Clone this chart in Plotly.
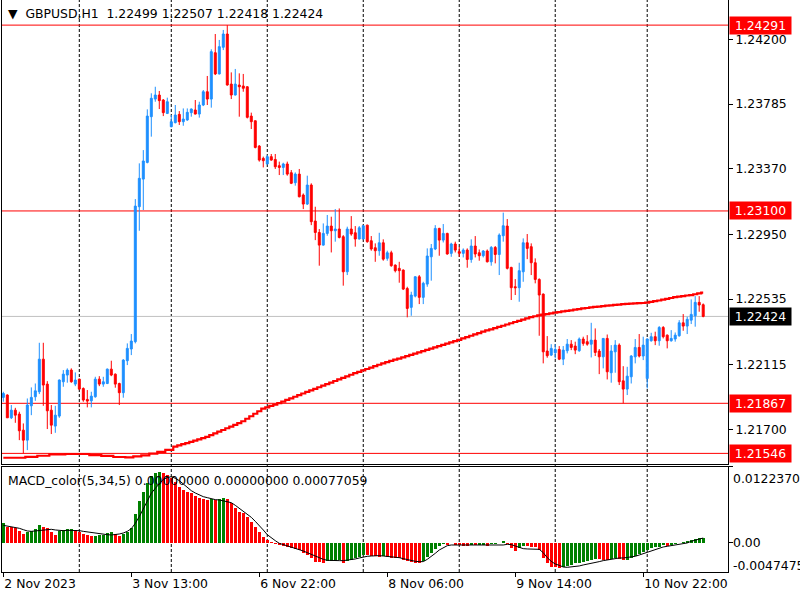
import plotly.graph_objects as go

BARS = list(range(176))

OPEN = [
    1.21905, 1.21920, 1.21774, 1.21823, 1.21798, 1.21695, 1.21631, 1.21851, 1.21909, 1.21941,
    1.22150, 1.21990, 1.21823, 1.21721, 1.21785, 1.22005, 1.22048, 1.22080, 1.21990, 1.22022,
    1.21962, 1.21892, 1.21883, 1.21909, 1.22022, 1.21990, 1.21994, 1.22086, 1.22054, 1.21994,
    1.21935, 1.22140, 1.22215, 1.22262, 1.23127, 1.23304, 1.23411, 1.23704, 1.23817, 1.23843,
    1.23811, 1.23725, 1.23640, 1.23666, 1.23719, 1.23672, 1.23683, 1.23730, 1.23747, 1.23721,
    1.23779, 1.23864, 1.23817, 1.24114, 1.23978, 1.24149, 1.24234, 1.23913, 1.23843, 1.23907,
    1.23901, 1.23896, 1.23708, 1.23678, 1.23516, 1.23437, 1.23401, 1.23448, 1.23430, 1.23390,
    1.23379, 1.23401, 1.23345, 1.23281, 1.23336, 1.23202, 1.23144, 1.23266, 1.23035, 1.22962,
    1.22881, 1.22956, 1.23003, 1.22973, 1.22984, 1.22935, 1.22710, 1.22984, 1.22960, 1.22920,
    1.22920, 1.23009, 1.22909, 1.22864, 1.22845, 1.22896, 1.22796, 1.22832, 1.22753, 1.22732,
    1.22721, 1.22603, 1.22482, 1.22554, 1.22678, 1.22546, 1.22631, 1.22806, 1.22856, 1.22988,
    1.22913, 1.22956, 1.22828, 1.22888, 1.22839, 1.22828, 1.22849, 1.22789, 1.22875, 1.22832,
    1.22813, 1.22843, 1.22774, 1.22866, 1.22821, 1.22941, 1.23003, 1.22738, 1.22614, 1.22608,
    1.22710, 1.22896, 1.22871, 1.22768, 1.22661, 1.22567, 1.22202, 1.22176, 1.22191, 1.22212,
    1.22150, 1.22204, 1.22246, 1.22234, 1.22204, 1.22279, 1.22262, 1.22246, 1.22272, 1.22202,
    1.22165, 1.22283, 1.22063, 1.22197, 1.22240, 1.22011, 1.21958, 1.22037, 1.22165, 1.22225,
    1.22170, 1.22026, 1.22268, 1.22294, 1.22268, 1.22353, 1.22304, 1.22268, 1.22279, 1.22300,
    1.22383, 1.22362, 1.22400, 1.22428, 1.22514, 1.22499,
]

HIGH = [
    1.21941, 1.21925, 1.21856, 1.21838, 1.21813, 1.21738, 1.21898, 1.21969, 1.21994, 1.22255,
    1.22255, 1.22009, 1.21856, 1.21851, 1.22020, 1.22080, 1.22091, 1.22091, 1.22065, 1.22025,
    1.21969, 1.21952, 1.21941, 1.22037, 1.22041, 1.22037, 1.22090, 1.22140, 1.22058, 1.21999,
    1.22150, 1.22251, 1.22311, 1.23176, 1.23405, 1.23490, 1.23751, 1.23854, 1.23896, 1.23869,
    1.23817, 1.23826, 1.23715, 1.23779, 1.23740, 1.23757, 1.23757, 1.23757, 1.23811, 1.23800,
    1.23875, 1.23965, 1.24136, 1.24234, 1.24196, 1.24260, 1.24291, 1.23988, 1.24010, 1.23982,
    1.23978, 1.23900, 1.23730, 1.23680, 1.23522, 1.23448, 1.23458, 1.23465, 1.23465, 1.23416,
    1.23409, 1.23416, 1.23362, 1.23347, 1.23369, 1.23212, 1.23326, 1.23277, 1.23127, 1.22984,
    1.23020, 1.23074, 1.23063, 1.23112, 1.23116, 1.22945, 1.22999, 1.23067, 1.23003, 1.23003,
    1.23010, 1.23012, 1.22939, 1.22892, 1.22960, 1.22918, 1.22845, 1.22845, 1.22757, 1.22774,
    1.22725, 1.22614, 1.22582, 1.22682, 1.22689, 1.22646, 1.22860, 1.22888, 1.23009, 1.22992,
    1.23016, 1.22960, 1.22896, 1.22903, 1.22871, 1.22860, 1.22860, 1.22918, 1.22939, 1.22853,
    1.22849, 1.22853, 1.22875, 1.22875, 1.22956, 1.23089, 1.23048, 1.22742, 1.22663, 1.22768,
    1.22924, 1.22952, 1.22892, 1.22796, 1.22668, 1.22571, 1.22298, 1.22246, 1.22246, 1.22234,
    1.22234, 1.22279, 1.22272, 1.22262, 1.22289, 1.22294, 1.22304, 1.22383, 1.22347, 1.22215,
    1.22285, 1.22308, 1.22240, 1.22272, 1.22251, 1.22105, 1.22101, 1.22176, 1.22279, 1.22311,
    1.22294, 1.22283, 1.22319, 1.22326, 1.22362, 1.22362, 1.22308, 1.22336, 1.22321, 1.22400,
    1.22439, 1.22422, 1.22533, 1.22554, 1.22554, 1.22507,
]

LOW = [
    1.21877, 1.21774, 1.21766, 1.21742, 1.21631, 1.21546, 1.21567, 1.21791, 1.21883, 1.21926,
    1.21851, 1.21702, 1.21670, 1.21678, 1.21774, 1.21973, 1.21999, 1.21999, 1.21977, 1.21952,
    1.21877, 1.21841, 1.21841, 1.21903, 1.21977, 1.21973, 1.21990, 1.22041, 1.21967, 1.21856,
    1.21903, 1.22112, 1.22176, 1.22251, 1.22973, 1.23106, 1.23405, 1.23576, 1.23800, 1.23753,
    1.23708, 1.23721, 1.23636, 1.23661, 1.23651, 1.23646, 1.23678, 1.23704, 1.23719, 1.23698,
    1.23772, 1.23779, 1.23762, 1.23971, 1.23975, 1.24131, 1.23903, 1.23817, 1.23840, 1.23704,
    1.23864, 1.23693, 1.23625, 1.23501, 1.23416, 1.23379, 1.23400, 1.23422, 1.23369, 1.23330,
    1.23330, 1.23326, 1.23272, 1.23262, 1.23187, 1.23112, 1.23138, 1.23009, 1.22913, 1.22749,
    1.22877, 1.22941, 1.22834, 1.22903, 1.22924, 1.22621, 1.22689, 1.22941, 1.22871, 1.22918,
    1.22918, 1.22896, 1.22845, 1.22774, 1.22813, 1.22781, 1.22781, 1.22742, 1.22706, 1.22640,
    1.22593, 1.22418, 1.22428, 1.22546, 1.22503, 1.22503, 1.22614, 1.22653, 1.22849, 1.22813,
    1.22898, 1.22820, 1.22806, 1.22834, 1.22806, 1.22802, 1.22736, 1.22768, 1.22802, 1.22781,
    1.22802, 1.22770, 1.22749, 1.22764, 1.22689, 1.22903, 1.22725, 1.22529, 1.22561, 1.22518,
    1.22646, 1.22791, 1.22689, 1.22636, 1.22300, 1.22123, 1.22159, 1.22170, 1.22155, 1.22144,
    1.22112, 1.22187, 1.22208, 1.22182, 1.22197, 1.22236, 1.22236, 1.22161, 1.22170, 1.22054,
    1.22091, 1.22020, 1.21999, 1.22063, 1.21984, 1.21867, 1.21920, 1.21994, 1.22123, 1.22161,
    1.22144, 1.21962, 1.22262, 1.22240, 1.22236, 1.22283, 1.22219, 1.22262, 1.22262, 1.22294,
    1.22332, 1.22311, 1.22375, 1.22358, 1.22454, 1.22418,
]

CLOSE = [
    1.21930, 1.21774, 1.21823, 1.21791, 1.21691, 1.21631, 1.21856, 1.21905, 1.21947, 1.22150,
    1.21984, 1.21819, 1.21727, 1.21791, 1.22016, 1.22054, 1.22080, 1.22005, 1.22016, 1.21958,
    1.21888, 1.21881, 1.21913, 1.22022, 1.21990, 1.22005, 1.22086, 1.22048, 1.21990, 1.21935,
    1.22144, 1.22219, 1.22266, 1.23131, 1.23309, 1.23420, 1.23708, 1.23822, 1.23843, 1.23807,
    1.23730, 1.23800, 1.23672, 1.23715, 1.23672, 1.23689, 1.23732, 1.23753, 1.23721, 1.23779,
    1.23864, 1.23817, 1.24121, 1.23978, 1.24153, 1.24234, 1.23907, 1.23843, 1.23913, 1.23896,
    1.23886, 1.23700, 1.23672, 1.23507, 1.23426, 1.23422, 1.23448, 1.23426, 1.23383, 1.23379,
    1.23401, 1.23336, 1.23277, 1.23336, 1.23191, 1.23144, 1.23266, 1.23031, 1.22962, 1.22881,
    1.22956, 1.23003, 1.22973, 1.22984, 1.22930, 1.22710, 1.22984, 1.22952, 1.22920, 1.22992,
    1.23005, 1.22903, 1.22856, 1.22845, 1.22896, 1.22791, 1.22832, 1.22749, 1.22717, 1.22717,
    1.22599, 1.22475, 1.22561, 1.22678, 1.22546, 1.22636, 1.22811, 1.22860, 1.22988, 1.22913,
    1.22956, 1.22824, 1.22888, 1.22849, 1.22828, 1.22849, 1.22789, 1.22875, 1.22824, 1.22813,
    1.22843, 1.22774, 1.22866, 1.22821, 1.22945, 1.23005, 1.22732, 1.22608, 1.22608, 1.22717,
    1.22896, 1.22860, 1.22768, 1.22661, 1.22561, 1.22197, 1.22172, 1.22219, 1.22212, 1.22150,
    1.22208, 1.22246, 1.22225, 1.22208, 1.22279, 1.22251, 1.22246, 1.22272, 1.22193, 1.22165,
    1.22283, 1.22069, 1.22202, 1.22240, 1.22005, 1.21958, 1.22041, 1.22170, 1.22225, 1.22170,
    1.22240, 1.22279, 1.22294, 1.22268, 1.22353, 1.22294, 1.22268, 1.22283, 1.22304, 1.22383,
    1.22362, 1.22405, 1.22437, 1.22514, 1.22497, 1.22424,
]

MA = [
    1.21518, 1.21518, 1.21518, 1.21518, 1.21518, 1.21518, 1.21524, 1.21524, 1.21524, 1.21531,
    1.21531, 1.21531, 1.21540, 1.21540, 1.21540, 1.21540, 1.21542, 1.21542, 1.21542, 1.21542,
    1.21542, 1.21542, 1.21535, 1.21535, 1.21535, 1.21530, 1.21530, 1.21530, 1.21523, 1.21523,
    1.21523, 1.21521, 1.21521, 1.21527, 1.21527, 1.21533, 1.21533, 1.21544, 1.21544, 1.21556,
    1.21556, 1.21569, 1.21569, 1.21589, 1.21597, 1.21605, 1.21612, 1.21620, 1.21628, 1.21636,
    1.21644, 1.21652, 1.21663, 1.21674, 1.21685, 1.21696, 1.21707, 1.21718, 1.21729, 1.21740,
    1.21752, 1.21768, 1.21784, 1.21800, 1.21816, 1.21833, 1.21841, 1.21850, 1.21858, 1.21868,
    1.21878, 1.21889, 1.21899, 1.21909, 1.21919, 1.21930, 1.21940, 1.21950, 1.21960, 1.21970,
    1.21980, 1.21990, 1.22000, 1.22010, 1.22020, 1.22030, 1.22040, 1.22050, 1.22060, 1.22069,
    1.22078, 1.22087, 1.22096, 1.22105, 1.22114, 1.22123, 1.22131, 1.22139, 1.22147, 1.22154,
    1.22162, 1.22170, 1.22178, 1.22185, 1.22193, 1.22201, 1.22209, 1.22217, 1.22225, 1.22233,
    1.22241, 1.22249, 1.22257, 1.22266, 1.22274, 1.22283, 1.22291, 1.22300, 1.22309, 1.22317,
    1.22326, 1.22334, 1.22341, 1.22349, 1.22357, 1.22364, 1.22372, 1.22380, 1.22388, 1.22396,
    1.22404, 1.22412, 1.22420, 1.22425, 1.22430, 1.22435, 1.22439, 1.22444, 1.22448, 1.22452,
    1.22456, 1.22460, 1.22463, 1.22467, 1.22471, 1.22475, 1.22478, 1.22482, 1.22485, 1.22487,
    1.22490, 1.22493, 1.22495, 1.22498, 1.22500, 1.22503, 1.22504, 1.22506, 1.22507, 1.22509,
    1.22510, 1.22512, 1.22517, 1.22522, 1.22526, 1.22531, 1.22537, 1.22542, 1.22547, 1.22551,
    1.22554, 1.22558, 1.22561, 1.22566, 1.22571, 1.22577,
]

MACD_HIST = [
    0.00324, 0.00259, 0.00248, 0.00232, 0.00194, 0.00140, 0.00178, 0.00194, 0.00216, 0.00286,
    0.00259, 0.00232, 0.00178, 0.00124, 0.00194, 0.00205, 0.00216, 0.00221, 0.00205, 0.00178,
    0.00140, 0.00124, 0.00108, 0.00113, 0.00118, 0.00124, 0.00162, 0.00167, 0.00140, 0.00108,
    0.00140, 0.00178, 0.00232, 0.00464, 0.00679, 0.00814, 0.00960, 0.01078, 0.01132, 0.01143,
    0.01122, 0.01095, 0.01041, 0.00987, 0.00906, 0.00852, 0.00825, 0.00798, 0.00755, 0.00717,
    0.00701, 0.00690, 0.00701, 0.00690, 0.00701, 0.00717, 0.00712, 0.00636, 0.00555, 0.00501,
    0.00474, 0.00421, 0.00340, 0.00259, 0.00178, 0.00097, 0.00043, 0.00011, -0.00022, -0.00038,
    -0.00054, -0.00075, -0.00092, -0.00108, -0.00119, -0.00173, -0.00200, -0.00253, -0.00307, -0.00318,
    -0.00324, -0.00302, -0.00297, -0.00291, -0.00286, -0.00334, -0.00291, -0.00280, -0.00253, -0.00226,
    -0.00200, -0.00205, -0.00216, -0.00221, -0.00226, -0.00210, -0.00237, -0.00243, -0.00248, -0.00253,
    -0.00280, -0.00300, -0.00318, -0.00329, -0.00334, -0.00302, -0.00226, -0.00162, -0.00108, -0.00054,
    -0.00022, -0.00038, -0.00011, -0.00038, -0.00040, -0.00049, -0.00054, -0.00038, -0.00040, -0.00038,
    -0.00032, -0.00054, -0.00022, -0.00016, -0.00011, 0.00022, -0.00022, -0.00092, -0.00129, -0.00092,
    -0.00054, -0.00059, -0.00065, -0.00075, -0.00119, -0.00253, -0.00334, -0.00388, -0.00399, -0.00415,
    -0.00399, -0.00377, -0.00361, -0.00334, -0.00324, -0.00307, -0.00291, -0.00280, -0.00264, -0.00270,
    -0.00275, -0.00280, -0.00264, -0.00253, -0.00264, -0.00280, -0.00275, -0.00253, -0.00216, -0.00183,
    -0.00146, -0.00119, -0.00092, -0.00075, -0.00065, -0.00043, -0.00048, -0.00032, -0.00022, -0.00011,
    0.00011, 0.00022, 0.00043, 0.00059, 0.00070, 0.00077,
]

MACD_SIGNAL = [
    0.00280, 0.00270, 0.00259, 0.00243, 0.00232, 0.00210, 0.00189, 0.00183, 0.00189, 0.00194,
    0.00205, 0.00216, 0.00216, 0.00205, 0.00194, 0.00194, 0.00200, 0.00200, 0.00200, 0.00194,
    0.00183, 0.00173, 0.00162, 0.00151, 0.00140, 0.00135, 0.00129, 0.00124, 0.00129, 0.00140,
    0.00156, 0.00183, 0.00226, 0.00313, 0.00421, 0.00555, 0.00690, 0.00798, 0.00879, 0.00960,
    0.01024, 0.01051, 0.01068, 0.01041, 0.01003, 0.00949, 0.00895, 0.00841, 0.00803, 0.00771,
    0.00744, 0.00728, 0.00706, 0.00696, 0.00690, 0.00679, 0.00663, 0.00647, 0.00604, 0.00555,
    0.00512, 0.00464, 0.00410, 0.00345, 0.00280, 0.00205, 0.00129, 0.00075, 0.00032, -0.00011,
    -0.00032, -0.00049, -0.00070, -0.00086, -0.00108, -0.00135, -0.00162, -0.00189, -0.00221, -0.00253,
    -0.00270, -0.00286, -0.00291, -0.00291, -0.00291, -0.00291, -0.00286, -0.00275, -0.00264, -0.00248,
    -0.00232, -0.00221, -0.00216, -0.00210, -0.00210, -0.00216, -0.00221, -0.00226, -0.00232, -0.00243,
    -0.00259, -0.00275, -0.00291, -0.00302, -0.00307, -0.00307, -0.00270, -0.00226, -0.00173, -0.00119,
    -0.00086, -0.00049, -0.00038, -0.00038, -0.00043, -0.00043, -0.00043, -0.00043, -0.00043, -0.00043,
    -0.00043, -0.00043, -0.00043, -0.00043, -0.00043, -0.00038, -0.00027, -0.00032, -0.00054, -0.00081,
    -0.00097, -0.00102, -0.00102, -0.00108, -0.00108, -0.00162, -0.00243, -0.00302, -0.00345, -0.00367,
    -0.00394, -0.00399, -0.00394, -0.00388, -0.00377, -0.00361, -0.00350, -0.00334, -0.00318, -0.00307,
    -0.00291, -0.00280, -0.00264, -0.00253, -0.00248, -0.00248, -0.00243, -0.00237, -0.00221, -0.00200,
    -0.00178, -0.00151, -0.00124, -0.00102, -0.00086, -0.00070, -0.00059, -0.00049, -0.00038, -0.00027,
    -0.00022, -0.00005, 0.00022, 0.00043, 0.00065, 0.00075,
]

TICK_BARS = [0, 32, 64, 96, 128, 160]
TICK_TEXT = ["2 Nov 2023", "3 Nov 13:00", "6 Nov 22:00", "8 Nov 06:00", "9 Nov 14:00", "10 Nov 22:00"]
GRID_BARS = [19, 42, 66, 90, 114, 138, 161]
PRICE_TICKS = [1.24200, 1.23785, 1.23370, 1.22950, 1.22535, 1.22115, 1.21700]
LEVELS = [1.24291, 1.23100, 1.21867, 1.21546]
BID = 1.22424
MACD_MAX = 0.0122370
MACD_MIN = -0.0047475
MACD_LABELS = ["0.0122370", "0.00", "-0.0047475"]
HEADER = "▼\u00a0\u00a0GBPUSD,H1\u00a0\u00a01.22499 1.22507 1.22418 1.22424"
MACD_HEADER = "MACD_color(5,34,5) 0.00000000 0.00000000 0.00077059"

FONT = "DejaVu Sans"
FS = 12.4
BULL = "#1E90FF"
BEAR = "#FF0000"
UP = "#008000"
DOWN = "#FF0000"

hist_colors = []
for i, v in enumerate(MACD_HIST):
    if i == 0 or v > MACD_HIST[i - 1]:
        hist_colors.append(UP)
    else:
        hist_colors.append(DOWN)

fig = go.Figure()
fig.add_trace(go.Candlestick(
    x=BARS, open=OPEN, high=HIGH, low=LOW, close=CLOSE,
    increasing=dict(line=dict(color=BULL, width=1), fillcolor=BULL),
    decreasing=dict(line=dict(color=BEAR, width=1), fillcolor=BEAR),
    whiskerwidth=0, xaxis="x", yaxis="y", showlegend=False, hoverinfo="skip",
))
fig.add_trace(go.Scatter(
    x=BARS, y=MA, mode="lines", line=dict(color="#FF0000", width=2.2, shape="hvh"),
    xaxis="x", yaxis="y", showlegend=False, hoverinfo="skip",
))
fig.add_trace(go.Bar(
    x=BARS, y=MACD_HIST, marker=dict(color=hist_colors, line=dict(width=0)), width=0.72,
    xaxis="x2", yaxis="y2", showlegend=False, hoverinfo="skip",
))
fig.add_trace(go.Scatter(
    x=BARS, y=MACD_SIGNAL, mode="lines", line=dict(color="black", width=1),
    xaxis="x2", yaxis="y2", showlegend=False, hoverinfo="skip",
))

shapes = []
for b in GRID_BARS:
    shapes.append(dict(type="line", xref="x", yref="paper", x0=b, x1=b, y0=0, y1=1,
                       line=dict(color="black", width=1, dash="3px,2px"), layer="below"))
for lv in LEVELS:
    shapes.append(dict(type="line", xref="paper", yref="y", x0=0, x1=1, y0=lv, y1=lv,
                       line=dict(color="#FF0000", width=1), layer="below"))
shapes.append(dict(type="line", xref="paper", yref="y", x0=0, x1=1, y0=BID, y1=BID,
                   line=dict(color="#C0C0C0", width=1), layer="below"))

annotations = []
for lv in LEVELS:
    annotations.append(dict(xref="paper", yref="y", x=1, y=lv, xanchor="left", yanchor="middle",
                            xshift=1, text=f"{lv:.5f}", showarrow=False, bgcolor="#FF0000",
                            font=dict(family=FONT, size=FS, color="white"),
                            width=59, height=15, borderpad=1, align="center"))
annotations.append(dict(xref="paper", yref="y", x=1, y=BID, xanchor="left", yanchor="middle",
                        xshift=1, text=f"{BID:.5f}", showarrow=False, bgcolor="black",
                        font=dict(family=FONT, size=FS, color="white"),
                        width=59, height=15, borderpad=1, align="center"))
annotations.append(dict(xref="paper", yref="y2", x=1, y=MACD_MAX, xanchor="left", yanchor="top",
                        xshift=3, yshift=-2, text=MACD_LABELS[0], showarrow=False,
                        font=dict(family=FONT, size=FS, color="black")))
annotations.append(dict(xref="paper", yref="y2", x=1, y=0, xanchor="left", yanchor="middle",
                        xshift=3, text=MACD_LABELS[1], showarrow=False,
                        font=dict(family=FONT, size=FS, color="black")))
annotations.append(dict(xref="paper", yref="y2", x=1, y=MACD_MIN, xanchor="left", yanchor="bottom",
                        xshift=3, yshift=-3, text=MACD_LABELS[2], showarrow=False,
                        font=dict(family=FONT, size=FS, color="black")))
annotations.append(dict(xref="paper", yref="paper", x=0, y=1, xanchor="left", yanchor="top",
                        xshift=4, yshift=-4, text=HEADER, showarrow=False,
                        font=dict(family=FONT, size=FS, color="black")))
annotations.append(dict(xref="paper", yref="y2", x=0, y=MACD_MAX, xanchor="left", yanchor="top",
                        xshift=4, yshift=-4, text=MACD_HEADER, showarrow=False,
                        font=dict(family=FONT, size=FS, color="black")))

axis_common = dict(showgrid=False, zeroline=False, showline=True, linecolor="black",
                   linewidth=1, mirror=True, fixedrange=True)

fig.update_layout(
    width=800, height=600,
    margin=dict(l=2, r=72, t=0, b=28),
    paper_bgcolor="white", plot_bgcolor="white",
    font=dict(family=FONT, size=FS, color="black"),
    showlegend=False,
    bargap=0,
    hovermode=False,
    xaxis=dict(domain=[0, 1], anchor="y", range=[-0.33, 181.2], showticklabels=False,
               ticks="", rangeslider=dict(visible=False), **axis_common),
    xaxis2=dict(domain=[0, 1], anchor="y2", range=[-0.33, 181.2], matches="x",
                tickmode="array", tickvals=TICK_BARS, ticktext=TICK_TEXT,
                ticks="outside", ticklen=4, tickcolor="black",
                ticklabelposition="outside right", **axis_common),
    yaxis=dict(domain=[0.18881, 1], anchor="x", side="right", range=[1.21478, 1.24452],
               tickmode="array", tickvals=PRICE_TICKS, ticktext=[f"{v:.5f}" for v in PRICE_TICKS],
               ticks="outside", ticklen=4, tickcolor="black", **axis_common),
    yaxis2=dict(domain=[0, 0.18357], anchor="x2", side="right", range=[MACD_MIN, MACD_MAX],
                tickmode="array", tickvals=[MACD_MAX, 0], showticklabels=False,
                ticks="outside", ticklen=4, tickcolor="black", **axis_common),
    shapes=shapes,
    annotations=annotations,
)

fig.write_html(
    "out.html",
    config={"displayModeBar": False, "staticPlot": True},
    post_script="document.body.style.margin='0';document.body.style.overflow='hidden';",
)
